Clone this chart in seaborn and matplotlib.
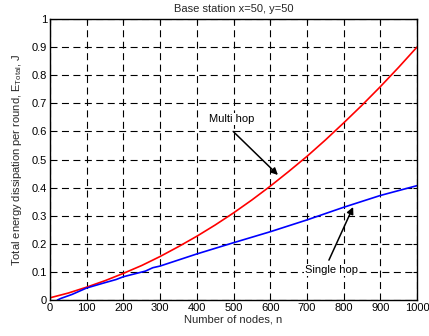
import matplotlib
matplotlib.use("Agg")
import matplotlib.pyplot as plt
import seaborn as sns
import pandas as pd

# Total energy per round versus network size
multi_n = [0, 50, 100, 150, 200, 250, 300, 350, 400, 450, 500, 550, 600,
           650, 700, 750, 800, 850, 900, 950, 1000]
multi_e = [0.008, 0.025, 0.046, 0.069, 0.095, 0.123, 0.155, 0.190, 0.227,
           0.267, 0.310, 0.356, 0.405, 0.457, 0.511, 0.569, 0.630, 0.693,
           0.759, 0.828, 0.900]

single_n = [20, 30, 60, 100, 150, 180, 200, 260, 280, 300, 400, 500, 600,
            700, 800, 900, 1000]
single_e = [0.000, 0.006, 0.020, 0.043, 0.062, 0.073, 0.083, 0.103, 0.115,
            0.121, 0.164, 0.204, 0.243, 0.285, 0.330, 0.372, 0.407]

x_ticks = [0, 100, 200, 300, 400, 500, 600, 700, 800, 900, 1000]
y_ticks = [0, 0.1, 0.2, 0.3, 0.4, 0.5, 0.6, 0.7, 0.8, 0.9, 1]
y_tick_labels = ["0", "0.1", "0.2", "0.3", "0.4", "0.5", "0.6", "0.7",
                 "0.8", "0.9", "1"]

df = pd.concat([
    pd.DataFrame({"n": multi_n, "E": multi_e, "scheme": "Multi hop"}),
    pd.DataFrame({"n": single_n, "E": single_e, "scheme": "Single hop"}),
])

sns.set_theme(style="white")
plt.rcParams["font.family"] = ["Liberation Sans", "DejaVu Sans"]
plt.rcParams["mathtext.fontset"] = "custom"
plt.rcParams["mathtext.rm"] = "Liberation Sans"
plt.rcParams["mathtext.it"] = "Liberation Sans:italic"

fig = plt.figure(figsize=(4.29, 3.36), dpi=100)
ax = fig.add_axes([0.1166, 0.107, 0.8554, 0.8365])

sns.lineplot(data=df, x="n", y="E", hue="scheme",
             palette={"Multi hop": "#ff0000", "Single hop": "#0000ff"},
             linewidth=1.2, legend=False, ax=ax, estimator=None, sort=False)

ax.set_xlim(0, 1000)
ax.set_ylim(0, 1)
ax.set_xticks(x_ticks)
ax.set_xticklabels([str(t) for t in x_ticks])
ax.set_yticks(y_ticks)
ax.set_yticklabels(y_tick_labels)
ax.tick_params(direction="in", length=3, width=0.8, labelsize=8,
               top=True, right=True, colors="black", pad=2)

ax.grid(True, color="black", linestyle=(0, (6.3, 4.0)), linewidth=0.8)
for s in ax.spines.values():
    s.set_visible(True)
    s.set_color("black")
    s.set_linewidth(1.0)

ax.set_title("Base station x=50, y=50", fontsize=8, pad=5)
ax.set_xlabel("Number of nodes, n", fontsize=8, labelpad=1)
ax.set_ylabel(r"Total energy dissipation per round, E$_{\mathrm{Total}}$, J",
              fontsize=8, labelpad=6)

label_box = dict(facecolor="white", edgecolor="none", pad=0.5)
arrow = dict(arrowstyle="-|>", color="black", lw=1.1, mutation_scale=10,
             shrinkA=0, shrinkB=0)
ax.annotate("", xy=(621, 0.445), xytext=(499, 0.600), arrowprops=arrow)
ax.text(494, 0.644, "Multi hop", fontsize=8, ha="center", va="center",
        color="black", bbox=label_box)
ax.annotate("", xy=(826, 0.331), xytext=(760, 0.142), arrowprops=arrow)
ax.text(766, 0.107, "Single hop", fontsize=8, ha="center", va="center",
        color="black", bbox=label_box)

fig.savefig("out.png", dpi=100)
